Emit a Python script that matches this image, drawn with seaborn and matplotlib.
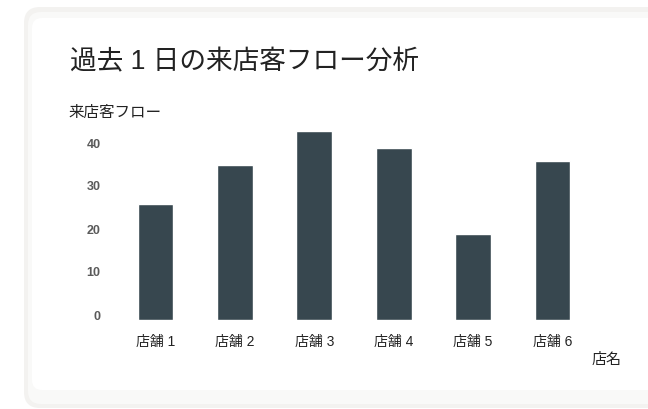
import matplotlib
matplotlib.use("Agg")
import matplotlib.pyplot as plt
from matplotlib.patches import FancyBboxPatch
from matplotlib.transforms import ScaledTranslation
import seaborn as sns
import pandas as pd

# ---- data ----
stores = ["店舗 1", "店舗 2", "店舗 3", "店舗 4", "店舗 5", "店舗 6"]
visitors = [27, 36, 44, 40, 20, 37]
y_ticks = [0, 10, 20, 30, 40]
title = "過去 1 日の来店客フロー分析"
y_label = "来店客フロー"
x_label = "店名"

sns.set_theme(style="white")
plt.rcParams["font.family"] = ["Liberation Sans", "Noto Sans CJK JP", "DejaVu Sans"]

W, H = 648, 409
fig = plt.figure(figsize=(W / 100, H / 100), dpi=100)
fig.patch.set_facecolor("white")

# background card in pixel coordinates
bg = fig.add_axes([0, 0, 1, 1], zorder=0)
bg.set_xlim(0, W)
bg.set_ylim(H, 0)
bg.axis("off")
bg.add_patch(FancyBboxPatch((24, 7), 700, 401, boxstyle="round,pad=0,rounding_size=16",
                            fc="#f3f2f0", ec="none"))
bg.add_patch(FancyBboxPatch((28, 12), 700, 392, boxstyle="round,pad=0,rounding_size=13",
                            fc="#f9f9f8", ec="none"))
bg.add_patch(FancyBboxPatch((32, 18), 700, 372, boxstyle="round,pad=0,rounding_size=10",
                            fc="white", ec="none"))

# main axes: category centers at 155.5 + 79.4*i, zero at y=320, 4.3 px per unit
px_per_cat = 79.4
left_px = 155.5 - px_per_cat / 2
zero_px = 320
ymax = 45
ppu = 4.3
ax = fig.add_axes([left_px / W, (H - zero_px) / H, 6 * px_per_cat / W, ymax * ppu / H], zorder=1)
ax.patch.set_alpha(0)

df = pd.DataFrame({"store": stores, "visitors": visitors})
sns.barplot(data=df, x="store", y="visitors", color="#37474F", saturation=1,
            width=0.45, ax=ax)

ax.set_xlim(-0.5, 5.5)
ax.set_ylim(0, ymax)
ax.set_yticks(y_ticks)
ax.set_yticklabels([str(t) for t in y_ticks], fontsize=9, color="#5a5a5a", fontweight="bold")
ax.tick_params(axis="y", length=0, pad=11)
ax.tick_params(axis="x", length=0, pad=11, labelsize=10, labelcolor="#222222")
shift = ScaledTranslation(0, 5 / 100, fig.dpi_scale_trans)
for lab in ax.get_yticklabels():
    lab.set_transform(lab.get_transform() + shift)
for s in ax.spines.values():
    s.set_visible(False)
ax.grid(False)
ax.set_xlabel("")
ax.set_ylabel("")

fig.text(70 / W, 1 - 62 / H, title, fontsize=19.2, color="#222222", ha="left", va="center")
fig.text(68 / W, 1 - 113 / H, y_label, fontsize=11.2, color="#222222", ha="left", va="center")
fig.text(607 / W, 1 - 360 / H, x_label, fontsize=10.8, color="#222222", ha="center", va="center")

fig.savefig("out.png", dpi=100, facecolor="white")
